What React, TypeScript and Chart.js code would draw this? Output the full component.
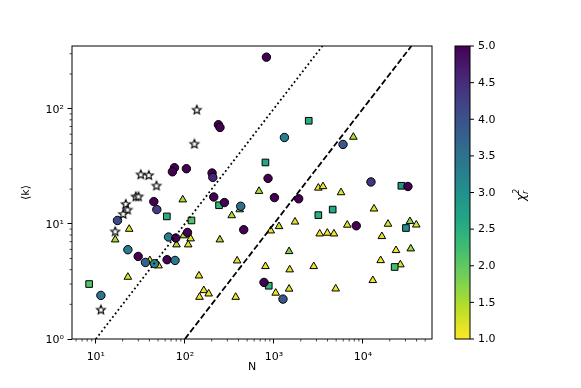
import React, { useEffect, useRef } from 'react';
import { Chart, registerables } from 'chart.js';

Chart.register(...registerables);

// ---------- data ----------
const triN = [94.6, 23.7, 16.5, 97, 116, 80.5, 109, 247, 413, 336, 680, 386, 50.6, 40.4, 22.9, 144, 163, 185, 146, 372,
  7800, 3153, 3557, 5670, 13300, 921, 1141, 1725, 3266, 3981, 4721, 6670, 19100, 16300, 33700, 39700, 23500, 34400,
  15800, 26300, 12900, 1480, 1504, 803, 2800, 1047, 1480, 4940];
const triK = [16.2, 9.0, 7.28, 7.9, 7.43, 6.59, 6.59, 7.28, 13.3, 11.8, 19.2, 4.78, 4.33, 4.81, 3.45, 3.54, 2.64, 2.47, 2.31, 2.31,
  56.7, 20.5, 21.1, 18.7, 13.5, 8.71, 9.5, 10.4, 8.2, 8.32, 8.2, 9.77, 9.96, 7.78, 10.5, 9.8, 5.88, 6.08,
  4.81, 4.42, 3.23, 5.76, 4.0, 4.27, 4.27, 2.51, 2.72, 2.73];
const triChi = [1.5, 1.2, 1.5, 1.5, 1.2, 1.5, 1.2, 1.5, 1.5, 1.5, 1.5, 1.2, 1.2, 1.2, 1.2, 1.1, 1.1, 1.1, 1.1, 1.1,
  1.5, 1.1, 1.1, 1.2, 1.2, 1.1, 1.4, 1.2, 1.1, 1.1, 1.1, 1.2, 1.2, 1.2, 1.7, 1.2, 1.1, 1.6,
  1.1, 1.2, 1.1, 1.8, 1.2, 1.1, 1.1, 1.1, 1.2, 1.1];

const circN = [238, 248, 76.4, 72.4, 104, 202, 206, 44.8, 48.4, 17.5, 65.5, 79, 107, 211, 278, 424, 458, 22.9, 29.9, 36.1,
  45.6, 63.1, 77.6, 11.4, 824, 1312, 5970, 859, 1013, 1897, 12300, 32000, 8410, 774, 1264];
const circK = [72.5, 68.7, 30.7, 28.3, 30.1, 27.6, 25.3, 15.6, 13.3, 10.7, 7.68, 7.53, 8.42, 17.1, 15.3, 14.2, 8.89, 5.96, 5.21, 4.62,
  4.51, 4.88, 4.81, 2.39, 280, 56.2, 48.9, 24.8, 16.9, 16.5, 23.1, 21.1, 9.62, 3.10, 2.22];
const circChi = [5, 5, 5, 5, 5, 5, 4.6, 5, 4.3, 4.1, 3.3, 5, 5, 5, 5, 3.6, 5, 3.3, 5, 3.7,
  3.2, 5, 3.4, 3.5, 5, 3.3, 3.9, 5, 5, 5, 4.4, 5, 5, 5, 3.9];

const sqN = [8.41, 62.7, 118.6, 242, 2460, 803, 3153, 4570, 27000, 30400, 22700, 875];
const sqK = [3.0, 11.6, 10.7, 14.5, 78.5, 34.1, 11.9, 13.3, 21.4, 9.2, 4.22, 2.9];
const sqChi = [2.1, 2.5, 2.1, 2.4, 2.5, 2.6, 2.5, 2.6, 2.9, 3.0, 2.2, 2.4];

const starN = [136, 128, 32, 39.3, 48, 28.1, 30.1, 21.7, 22.7, 20.3, 16.5, 11.4];
const starK = [98, 49.6, 26.9, 26.5, 21.5, 17.3, 17.3, 14.9, 13.3, 12.2, 8.6, 1.8];

const dottedN = [10, 3500];
const dottedK = [1, 350];
const dashedN = [100, 35000];
const dashedK = [1, 350];

const xMin = 5.4;
const xMax = 59600;
const yMin = 1;
const yMax = 350;
const xMajorTicks = [10, 100, 1000, 10000];
const yMajorTicks = [1, 10, 100];
const chiMin = 1;
const chiMax = 5;
const colorbarTicks = [1.0, 1.5, 2.0, 2.5, 3.0, 3.5, 4.0, 4.5, 5.0];

// ---------- colours ----------
const VIRIDIS = ['#440154', '#482475', '#414487', '#355f8d', '#2a788e', '#21918c', '#22a884', '#44bf70', '#7ad151', '#bddf26', '#fde725'];

function hexToRgb(h: string) {
  return [parseInt(h.slice(1, 3), 16), parseInt(h.slice(3, 5), 16), parseInt(h.slice(5, 7), 16)];
}
function viridis(t: number) {
  const tt = Math.max(0, Math.min(1, t)) * (VIRIDIS.length - 1);
  const i = Math.min(VIRIDIS.length - 2, Math.floor(tt));
  const f = tt - i;
  const a = hexToRgb(VIRIDIS[i]);
  const b = hexToRgb(VIRIDIS[i + 1]);
  const c = a.map((v, j) => Math.round(v + (b[j] - v) * f));
  return `rgb(${c[0]},${c[1]},${c[2]})`;
}
function chiColor(chi: number) {
  const t = (Math.max(chiMin, Math.min(chiMax, chi)) - chiMin) / (chiMax - chiMin);
  return viridis(1 - t);
}

const SUP: Record<string, string> = { '0': '⁰', '1': '¹', '2': '²', '3': '³', '4': '⁴', '5': '⁵', '-': '⁻' };
function powLabel(v: number) {
  const e = Math.round(Math.log10(v));
  return '10' + String(e).split('').map((c) => SUP[c]).join('');
}

const FONT = '"DejaVu Sans", sans-serif';

function makeStar() {
  const c = document.createElement('canvas');
  c.width = 14;
  c.height = 14;
  const ctx = c.getContext('2d')!;
  const R = 4.6;
  const r = R * 0.45;
  ctx.beginPath();
  for (let i = 0; i < 10; i++) {
    const ang = -Math.PI / 2 + (i * Math.PI) / 5;
    const rad = i % 2 === 0 ? R : r;
    const px = 7 + rad * Math.cos(ang);
    const py = 7.4 + rad * Math.sin(ang);
    if (i === 0) ctx.moveTo(px, py);
    else ctx.lineTo(px, py);
  }
  ctx.closePath();
  ctx.fillStyle = '#fff';
  ctx.fill();
  ctx.strokeStyle = '#000';
  ctx.lineWidth = 1.15;
  ctx.lineJoin = 'miter';
  ctx.stroke();
  return c;
}

const decorPlugin = {
  id: 'decor',
  afterDraw(chart: any) {
    const { ctx, chartArea: a, scales } = chart;
    const x = scales.x;
    const y = scales.y;
    ctx.save();
    // minor ticks
    ctx.strokeStyle = '#000';
    ctx.lineWidth = 0.7;
    ctx.beginPath();
    for (let e = 0; e < 6; e++) {
      for (let m = 2; m <= 9; m++) {
        const v = m * Math.pow(10, e);
        if (v >= xMin && v <= xMax) {
          const px = x.getPixelForValue(v);
          ctx.moveTo(px, a.bottom);
          ctx.lineTo(px, a.bottom + 2.5);
        }
        if (v >= yMin && v <= yMax) {
          const py = y.getPixelForValue(v);
          ctx.moveTo(a.left, py);
          ctx.lineTo(a.left - 2.5, py);
        }
      }
    }
    ctx.stroke();
    // frame
    ctx.lineWidth = 1;
    ctx.strokeRect(a.left, a.top, a.right - a.left, a.bottom - a.top);

    // colorbar
    const cbL = 455, cbR = 470, cbT = a.top, cbB = a.bottom;
    const g = ctx.createLinearGradient(0, cbB, 0, cbT);
    for (let i = 0; i <= 40; i++) {
      const f = i / 40;
      g.addColorStop(f, chiColor(chiMin + f * (chiMax - chiMin)));
    }
    ctx.fillStyle = g;
    ctx.fillRect(cbL, cbT, cbR - cbL, cbB - cbT);
    ctx.strokeRect(cbL, cbT, cbR - cbL, cbB - cbT);
    ctx.fillStyle = '#000';
    ctx.font = `11px ${FONT}`;
    ctx.textAlign = 'left';
    ctx.textBaseline = 'middle';
    ctx.beginPath();
    colorbarTicks.forEach((v) => {
      const py = cbB - ((v - chiMin) / (chiMax - chiMin)) * (cbB - cbT);
      ctx.moveTo(cbR, py);
      ctx.lineTo(cbR + 4, py);
      ctx.fillText(v.toFixed(1), cbR + 8, py + 0.5);
    });
    ctx.stroke();

    // colorbar label chi^2_r
    ctx.save();
    ctx.translate(521, 195);
    ctx.rotate(-Math.PI / 2);
    ctx.font = `italic 12px ${FONT}`;
    const wChi = ctx.measureText('χ').width;
    ctx.font = `italic 8px ${FONT}`;
    const wS = Math.max(ctx.measureText('2').width, ctx.measureText('r').width);
    const sx = -(wChi + wS) / 2;
    ctx.textBaseline = 'middle';
    ctx.font = `italic 12px ${FONT}`;
    ctx.fillText('χ', sx, 1);
    ctx.font = `italic 8px ${FONT}`;
    ctx.fillText('2', sx + wChi, -4);
    ctx.fillText('r', sx + wChi, 5);
    ctx.restore();

    ctx.restore();
  },
};

export default function App() {
  const ref = useRef<HTMLCanvasElement>(null);
  useEffect(() => {
    const star = makeStar();
    const pts = (xs: number[], ys: number[]) => xs.map((v, i) => ({ x: v, y: ys[i] }));
    const chart = new Chart(ref.current!, {
      type: 'scatter',
      data: {
        datasets: [
          {
            data: pts(dottedN, dottedK),
            showLine: true,
            borderColor: '#000',
            borderWidth: 1.8,
            borderDash: [1.8, 2.7],
            pointRadius: 0,
          } as any,
          {
            data: pts(dashedN, dashedK),
            showLine: true,
            borderColor: '#000',
            borderWidth: 1.8,
            borderDash: [6.1, 2.6],
            pointRadius: 0,
          } as any,
          {
            data: pts(starN, starK),
            pointStyle: star,
            pointRadius: 5,
          },
          {
            data: pts(circN, circK),
            pointStyle: 'circle',
            pointRadius: 4.2,
            pointBorderWidth: 1,
            pointBorderColor: '#000',
            pointBackgroundColor: circChi.map(chiColor),
          },
          {
            data: pts(sqN, sqK),
            pointStyle: 'rect',
            pointRadius: 4.7,
            pointBorderWidth: 1,
            pointBorderColor: '#000',
            pointBackgroundColor: sqChi.map(chiColor),
          },
          {
            data: pts(triN, triK),
            pointStyle: 'triangle',
            pointRadius: 4.4,
            pointBorderWidth: 1,
            pointBorderColor: '#000',
            pointBackgroundColor: triChi.map(chiColor),
          },
        ],
      },
      options: {
        animation: false,
        responsive: false,
        events: [],
        layout: { padding: { left: 0, top: 46, right: 149, bottom: 0 } },
        plugins: { legend: { display: false }, tooltip: { enabled: false } },
        scales: {
          x: {
            type: 'logarithmic',
            min: xMin,
            max: xMax,
            afterBuildTicks: (s: any) => {
              s.ticks = xMajorTicks.map((v) => ({ value: v }));
            },
            afterFit: (s: any) => {
              s.height = 49;
            },
            grid: { display: true, drawOnChartArea: false, drawTicks: true, tickLength: 4.5, tickColor: '#000', tickWidth: 1 },
            border: { display: false },
            ticks: {
              autoSkip: false,
              maxRotation: 0,
              padding: 7,
              color: '#000',
              font: { family: FONT, size: 11 },
              callback: (v: any) => powLabel(Number(v)),
            },
            title: { display: true, text: 'N', color: '#000', font: { family: FONT, size: 11 }, padding: { top: 0, bottom: 14 } },
          },
          y: {
            type: 'logarithmic',
            min: yMin,
            max: yMax,
            afterBuildTicks: (s: any) => {
              s.ticks = yMajorTicks.map((v) => ({ value: v }));
            },
            afterFit: (s: any) => {
              s.width = 72;
            },
            grid: { display: true, drawOnChartArea: false, drawTicks: true, tickLength: 4.5, tickColor: '#000', tickWidth: 1 },
            border: { display: false },
            ticks: {
              autoSkip: false,
              padding: 3.5,
              labelOffset: 1.5,
              color: '#000',
              font: { family: FONT, size: 11 },
              callback: (v: any) => powLabel(Number(v)),
            },
            title: { display: true, text: '⟨k⟩', color: '#000', font: { family: FONT, size: 11 }, padding: { top: 20, bottom: 0 } },
          },
        },
      } as any,
      plugins: [decorPlugin],
    });
    return () => chart.destroy();
  }, []);
  return (
    <div style={{ position: 'fixed', left: 0, top: 0, width: 581, height: 388, background: '#fff' }}>
      <canvas ref={ref} width={581} height={388} style={{ display: 'block' }} />
    </div>
  );
}
